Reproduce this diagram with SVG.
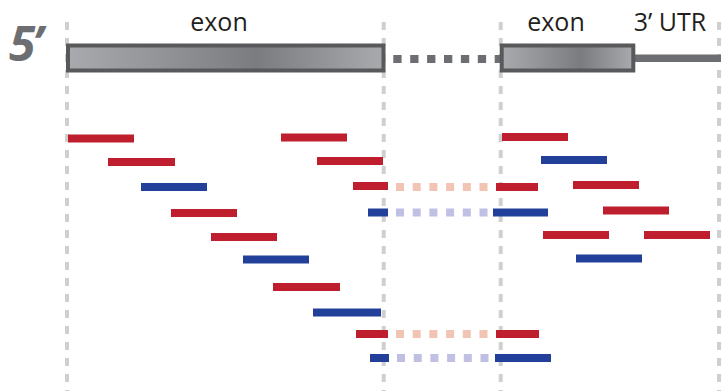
<svg xmlns="http://www.w3.org/2000/svg" width="721" height="391" viewBox="0 0 721 391">
<style>
.vd{stroke:#cfcfcf;stroke-width:4;stroke-dasharray:8 8;fill:none}
.r{fill:#be1e2d}
.b{fill:#22409a}
.lr{stroke:#f2c4b4;stroke-width:8;stroke-dasharray:8 8.7;fill:none}
.lb{stroke:#bfc0e3;stroke-width:8;stroke-dasharray:8 8.7;fill:none}
.lbl{font-family:"Open Sans","Liberation Sans",sans-serif;font-size:25px;fill:#231f20}
.ex{stroke:#58595b;stroke-width:4}
</style>
<defs>
<linearGradient id="g" x1="0" y1="0" x2="1" y2="0">
<stop offset="0" stop-color="#a9aaad"/>
<stop offset="0.6" stop-color="#7b7c80"/>
<stop offset="1" stop-color="#a9aaad"/>
</linearGradient>
</defs>
<g id="guides">
<line class="vd" x1="67" y1="22" x2="67" y2="391"/>
<line class="vd" x1="383.7" y1="22" x2="383.7" y2="391"/>
<line class="vd" x1="500.7" y1="22" x2="500.7" y2="391"/>
<line class="vd" x1="719" y1="22" x2="719" y2="391"/>
</g>
<g id="gene">
<text x="9" y="61" style="font-family:'Open Sans','Liberation Sans',sans-serif;font-size:48px;font-weight:bold;font-style:italic;fill:#6d6e71" letter-spacing="-3">5’</text>
<line x1="393.3" y1="59" x2="500" y2="59" stroke="#6d6e71" stroke-width="8" stroke-dasharray="8.3 8.6"/>
<line x1="634" y1="58.3" x2="721" y2="58.3" stroke="#6d6e71" stroke-width="7.5"/>
<g id="exon1">
<rect class="ex" x="68" y="45.5" width="315.5" height="25" fill="url(#g)"/>
<text class="lbl" x="219" y="31" text-anchor="middle">exon</text>
</g>
<g id="exon2">
<rect class="ex" x="501.7" y="45.5" width="131.6" height="25" fill="url(#g)"/>
<text class="lbl" x="556" y="31" text-anchor="middle">exon</text>
</g>
<g id="utr">
<text class="lbl" x="670" y="31" text-anchor="middle">3’ UTR</text>
</g>
</g>
<g id="reads">
<rect class="r" x="68" y="134.5" width="66" height="8"/>
<rect class="r" x="281" y="133.5" width="66" height="8"/>
<rect class="r" x="502" y="133" width="66" height="8"/>
<rect class="r" x="108" y="158" width="67" height="8"/>
<rect class="r" x="317" y="157" width="66" height="8"/>
<rect class="b" x="541" y="156" width="66" height="8"/>
<rect class="b" x="141" y="183" width="66" height="8"/>
<rect class="r" x="353" y="182" width="35" height="8"/>
<rect class="r" x="496" y="183" width="42" height="8"/>
<rect class="r" x="573" y="181" width="66" height="8"/>
<rect class="r" x="171" y="209" width="66" height="8"/>
<rect class="b" x="368" y="208.5" width="20" height="8"/>
<rect class="b" x="493" y="208.5" width="55" height="8"/>
<rect class="r" x="603" y="206.5" width="66" height="8"/>
<rect class="r" x="211" y="233" width="66" height="8"/>
<rect class="r" x="543" y="231" width="66" height="8"/>
<rect class="r" x="644" y="231" width="66" height="8"/>
<rect class="b" x="243" y="255.5" width="66" height="8"/>
<rect class="b" x="576" y="254.5" width="66" height="8"/>
<rect class="r" x="273" y="283" width="67" height="8"/>
<rect class="b" x="313" y="308.5" width="68" height="8"/>
<rect class="r" x="356" y="330" width="32" height="8"/>
<rect class="r" x="496" y="330" width="43" height="8"/>
<rect class="b" x="370" y="354" width="19" height="8"/>
<rect class="b" x="495" y="354" width="56" height="8"/>
</g>
<g id="connectors">
<line class="lr" x1="396" y1="187" x2="488" y2="187"/>
<line class="lb" x1="396" y1="212.5" x2="488" y2="212.5"/>
<line class="lr" x1="396" y1="334" x2="488" y2="334"/>
<line class="lb" x1="397" y1="358" x2="489" y2="358"/>
</g>
</svg>
